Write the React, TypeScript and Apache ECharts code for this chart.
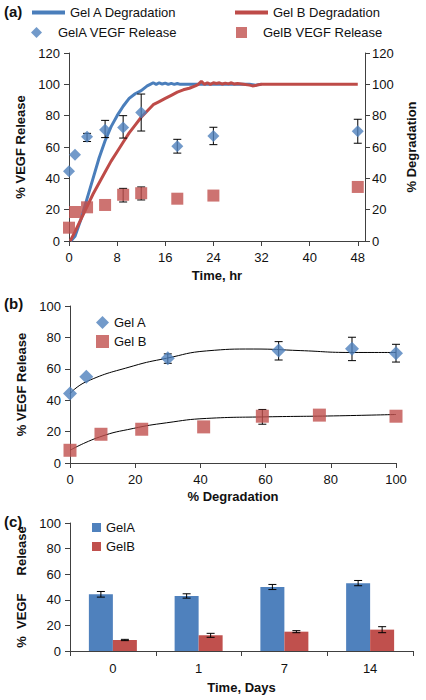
import React, { useEffect, useRef } from "react";
import * as echarts from "echarts";

const FONT = "'Liberation Sans', Arial, sans-serif";
const BLUE = "#4f81bd";
const RED = "#c0504d";
const BLUE_LINE = "#4a7ebb";
const RED_LINE = "#be4b48";
const AXIS = "#404040";
const DIAMOND_ICON = "path://M5,0 L10,5 L5,10 L0,5 Z";
const SQUARE_ICON = "path://M0,0 L10,0 L10,10 L0,10 Z";

// ---------- Panel (a) ----------
const timeTicks = [0, 8, 16, 24, 32, 40, 48];
const releaseTimes = [0, 1, 3, 6, 9, 12, 18, 24, 48];
const gelARelease = [44.5, 55, 66.5, 71, 72.5, 82, 60.5, 67, 70];
const gelBRelease = [8.5, 18.5, 21.5, 23, 29.5, 30.5, 27, 29, 34.5];
const gelAReleaseErr = [
  [3, 63.5, 68.7],
  [6, 66, 77],
  [9, 65.7, 80],
  [12, 70.2, 93.8],
  [18, 56.1, 64.9],
  [24, 61.5, 72.6],
  [48, 62.4, 77.7],
];
const gelBReleaseErr = [
  [9, 24.9, 33.6],
  [12, 26.2, 34.5],
];
const gelADegradation = [
  [0.3, 0], [1, 3], [2, 14], [3, 27], [4, 40], [5, 53], [6, 64], [7, 73], [8, 80],
  [9, 86], [10, 91], [11, 94], [12, 96], [13, 99], [13.5, 100], [14, 101], [14.5, 100],
  [15, 101], [15.5, 100.2], [16, 100.8], [16.5, 100], [17, 100.6], [17.5, 100],
  [18, 100.5], [18.5, 100], [20, 100], [24, 100], [28, 100], [30, 100], [31, 99.5], [32, 100],
];
const gelBDegradation = [
  [0.2, 0], [1, 6], [2, 14], [3, 22], [4, 30], [5, 37], [6, 44], [7, 51], [8, 57],
  [9, 63], [10, 69], [11, 74], [12, 79], [13, 83], [14, 87], [15, 89], [16, 91],
  [17, 93], [18, 95], [19, 96.5], [20, 97.5], [21, 99], [21.5, 100], [22, 102],
  [22.5, 100], [23, 101], [23.5, 100], [24, 101], [24.5, 100.5], [25, 101], [25.5, 100.2],
  [26, 100.8], [26.5, 100.3], [27, 101], [27.5, 100.2], [28, 100.5], [29, 100],
  [30, 99.5], [30.5, 99], [31, 99.2], [31.5, 99.8], [32, 100], [48, 100],
];

// ---------- Panel (b) ----------
const degA = [0, 5, 30, 64, 86.5, 100];
const releaseA = [44.3, 55, 66.7, 71.6, 72.7, 69.9];
const degB = [0, 9.5, 22, 41, 59, 76.5, 100];
const releaseB = [8.1, 18.3, 21.5, 23, 29.8, 30.5, 29.8];
const degAErr = [
  [30, 63.5, 69.5],
  [64, 65.6, 77.3],
  [86.5, 65.2, 80.1],
  [100, 64.3, 75.6],
];
const degBErr = [[59, 24.7, 34.1]];
const trendA = [
  [0, 44.3], [5, 51.8], [19.4, 61.8], [29.6, 66.7], [41.9, 71.4], [56.2, 72.6],
  [70.6, 71.6], [86, 70.4], [100, 70.4],
];
const trendB = [
  [0, 8.1], [9.1, 16.6], [19.4, 22], [29.6, 25.6], [41.9, 28.4], [60.4, 29.4],
  [80.8, 30], [100, 30.9],
];

// ---------- Panel (c) ----------
const dayCategories = ["0", "1", "7", "14"];
const barGelA = [44.3, 43, 50, 53];
const barGelB = [8.6, 12.3, 15.1, 16.7];
const barGelAErr = [[0, 42.1, 46.5], [1, 41.3, 44.7], [2, 48, 52], [3, 51, 55.1]];
const barGelBErr = [[0, 8.1, 9.1], [1, 10.7, 13.8], [2, 14.3, 15.9], [3, 14.3, 19]];

const zip = (xs: number[], ys: number[]) => xs.map((x, i) => [x, ys[i]]);

function errorBars(xAxisIndex: number, yAxisIndex: number, data: number[][], cap: number, offset = 0) {
  return {
    type: "custom",
    xAxisIndex,
    yAxisIndex,
    data,
    z: 3,
    silent: true,
    clip: false,
    renderItem: (_params: any, api: any) => {
      const x = api.value(0);
      const lo = api.coord([x, api.value(1)]);
      const hi = api.coord([x, api.value(2)]);
      const cx = lo[0] + offset;
      const style = { stroke: "#000", lineWidth: 1, fill: "none" };
      return {
        type: "group",
        children: [
          { type: "line", shape: { x1: cx, y1: lo[1], x2: cx, y2: hi[1] }, style },
          { type: "line", shape: { x1: cx - cap, y1: lo[1], x2: cx + cap, y2: lo[1] }, style },
          { type: "line", shape: { x1: cx - cap, y1: hi[1], x2: cx + cap, y2: hi[1] }, style },
        ],
      };
    },
  };
}

const axisBase = (extra: any = {}) => ({
  axisLine: { show: true, onZero: false, lineStyle: { color: AXIS, width: 1 } },
  axisTick: { show: true, inside: false, length: 5, lineStyle: { color: AXIS } },
  axisLabel: { color: "#111", fontSize: 13, fontFamily: FONT },
  splitLine: { show: false },
  nameLocation: "middle",
  nameTextStyle: { fontWeight: "bold", fontSize: 13, fontFamily: FONT, color: "#111" },
  ...extra,
});

const legendText = { fontSize: 13, fontFamily: FONT, color: "#111" };
const oneLegend = (name: string, left: number, top: number, icon: string, w: number, h: number) => ({
  data: [name],
  left,
  top,
  padding: 0,
  icon,
  itemWidth: w,
  itemHeight: h,
  symbolKeepAspect: true,
  selectedMode: false,
  textStyle: legendText,
});

export default function App() {
  const ref = useRef<HTMLDivElement>(null);
  useEffect(() => {
    if (!ref.current) return;
    const chart = echarts.init(ref.current, null, { renderer: "svg" });
    chart.setOption({
      animation: false,
      backgroundColor: "#fff",
      textStyle: { fontFamily: FONT },
      graphic: [
        { type: "text", left: 4, top: 4, style: { text: "(a)", font: `bold 15px ${FONT}`, fill: "#111" } },
        { type: "text", left: 4, top: 296, style: { text: "(b)", font: `bold 15px ${FONT}`, fill: "#111" } },
        { type: "text", left: 4, top: 514, style: { text: "(c)", font: `bold 15px ${FONT}`, fill: "#111" } },
      ],
      legend: [
        oneLegend("Gel A Degradation", 32, 6, "rect", 33, 4),
        oneLegend("Gel B Degradation", 235, 6, "rect", 33, 4),
        oneLegend("GelA VEGF Release", 31, 26, DIAMOND_ICON, 33, 11),
        oneLegend("GelB VEGF Release", 236, 26, SQUARE_ICON, 33, 11),
        oneLegend("Gel A", 96, 316, DIAMOND_ICON, 13, 13),
        oneLegend("Gel B", 96, 335, SQUARE_ICON, 13, 13),
        oneLegend("GelA", 92, 521, SQUARE_ICON, 9, 9),
        oneLegend("GelB", 92, 540, SQUARE_ICON, 9, 9),
      ],
      grid: [
        { left: 69, top: 53, width: 297, height: 188 },
        { left: 70, top: 306, width: 326, height: 157 },
        { left: 70, top: 523, width: 343, height: 128 },
      ],
      xAxis: [
        axisBase({
          gridIndex: 0,
          type: "value",
          min: 0,
          max: 49.2,
          interval: 8,
          name: "Time, hr",
          nameGap: 28,
          axisTick: { show: true, length: 5, lineStyle: { color: AXIS }, customValues: timeTicks },
          axisLabel: { color: "#111", fontSize: 13, fontFamily: FONT, margin: 10, customValues: timeTicks },
        }),
        axisBase({
          gridIndex: 1,
          type: "value",
          min: 0,
          max: 100,
          interval: 20,
          name: "% Degradation",
          nameGap: 27,
          axisLabel: { color: "#111", fontSize: 13, fontFamily: FONT, margin: 10 },
        }),
        axisBase({
          gridIndex: 2,
          type: "category",
          data: dayCategories,
          name: "Time, Days",
          nameGap: 30,
          axisTick: { show: true, length: 5, alignWithLabel: false, lineStyle: { color: AXIS } },
          axisLabel: { color: "#111", fontSize: 13, fontFamily: FONT, margin: 11 },
        }),
      ],
      yAxis: [
        axisBase({
          gridIndex: 0,
          type: "value",
          min: 0,
          max: 120,
          interval: 20,
          name: "% VEGF Release",
          nameGap: 38,
          axisLabel: { color: "#111", fontSize: 13, fontFamily: FONT, margin: 9 },
        }),
        axisBase({
          gridIndex: 0,
          type: "value",
          position: "right",
          min: 0,
          max: 120,
          interval: 20,
          name: "% Degradation",
          nameGap: 40,
          axisLabel: { color: "#111", fontSize: 13, fontFamily: FONT, margin: 7 },
        }),
        axisBase({
          gridIndex: 1,
          type: "value",
          min: 0,
          max: 100,
          interval: 20,
          name: "% VEGF Release",
          nameGap: 38,
          axisLabel: { color: "#111", fontSize: 13, fontFamily: FONT, margin: 9 },
        }),
        axisBase({
          gridIndex: 2,
          type: "value",
          min: 0,
          max: 100,
          interval: 20,
          name: "%\u00a0\u00a0VEGF\u00a0\u00a0\u00a0\u00a0\u00a0Release",
          nameGap: 31,
          axisLabel: { color: "#111", fontSize: 13, fontFamily: FONT, margin: 9 },
        }),
      ],
      series: [
        {
          name: "Gel A Degradation",
          type: "line",
          xAxisIndex: 0,
          yAxisIndex: 1,
          data: gelADegradation,
          symbol: "none",
          color: BLUE_LINE,
          lineStyle: { width: 3, color: BLUE_LINE },
          z: 2,
        },
        {
          name: "Gel B Degradation",
          type: "line",
          xAxisIndex: 0,
          yAxisIndex: 1,
          data: gelBDegradation,
          symbol: "none",
          color: RED_LINE,
          lineStyle: { width: 3, color: RED_LINE },
          z: 2,
        },
        errorBars(0, 0, gelAReleaseErr, 4),
        errorBars(0, 0, gelBReleaseErr, 4),
        {
          name: "GelA VEGF Release",
          type: "scatter",
          xAxisIndex: 0,
          yAxisIndex: 0,
          data: zip(releaseTimes, gelARelease),
          symbol: "diamond",
          symbolSize: 12,
          color: BLUE,
          clip: false,
          z: 4,
        },
        {
          name: "GelB VEGF Release",
          type: "scatter",
          xAxisIndex: 0,
          yAxisIndex: 0,
          data: zip(releaseTimes, gelBRelease),
          symbol: "rect",
          symbolSize: 12,
          color: RED,
          clip: false,
          z: 4,
        },
        {
          type: "line",
          xAxisIndex: 1,
          yAxisIndex: 2,
          data: trendA,
          smooth: 0.5,
          symbol: "none",
          lineStyle: { width: 1, color: "#000" },
          z: 2,
        },
        {
          type: "line",
          xAxisIndex: 1,
          yAxisIndex: 2,
          data: trendB,
          smooth: 0.5,
          symbol: "none",
          lineStyle: { width: 1, color: "#000" },
          z: 2,
        },
        errorBars(1, 2, degAErr, 4),
        errorBars(1, 2, degBErr, 4),
        {
          name: "Gel A",
          type: "scatter",
          xAxisIndex: 1,
          yAxisIndex: 2,
          data: zip(degA, releaseA),
          symbol: "diamond",
          symbolSize: 14,
          color: BLUE,
          clip: false,
          z: 4,
        },
        {
          name: "Gel B",
          type: "scatter",
          xAxisIndex: 1,
          yAxisIndex: 2,
          data: zip(degB, releaseB),
          symbol: "rect",
          symbolSize: 13,
          color: RED,
          clip: false,
          z: 4,
        },
        {
          name: "GelA",
          type: "bar",
          xAxisIndex: 2,
          yAxisIndex: 3,
          data: barGelA,
          barWidth: 24,
          barGap: "0%",
          color: BLUE,
          itemStyle: { color: BLUE },
        },
        {
          name: "GelB",
          type: "bar",
          xAxisIndex: 2,
          yAxisIndex: 3,
          data: barGelB,
          barWidth: 24,
          barGap: "0%",
          color: RED,
          itemStyle: { color: RED },
        },
        errorBars(2, 3, barGelAErr, 4, -12),
        errorBars(2, 3, barGelBErr, 4, 12),
      ],
    });
    return () => chart.dispose();
  }, []);
  return (
    <div
      ref={ref}
      style={{ position: "absolute", left: 0, top: 0, width: 426, height: 700, background: "#fff" }}
    />
  );
}
